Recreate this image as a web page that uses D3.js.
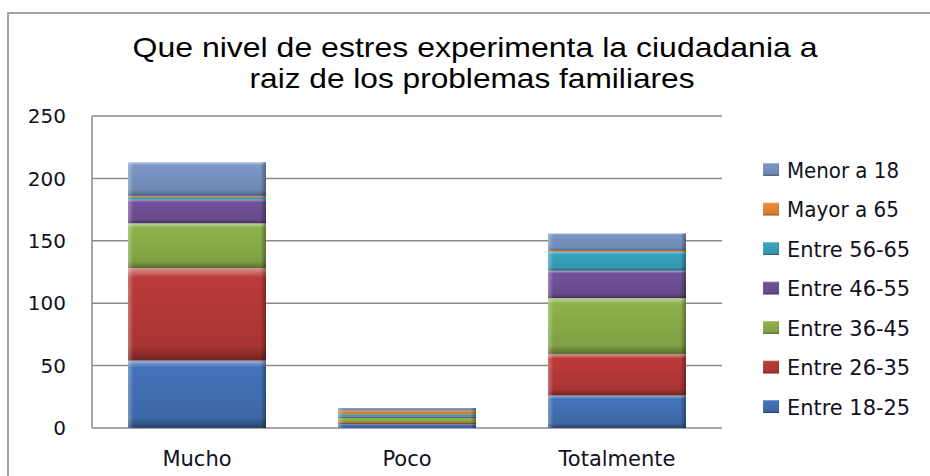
<!DOCTYPE html>
<html lang="es">
<head>
  <meta charset="UTF-8">
  <title>Nivel de estres</title>
  <style>
    html, body { margin: 0; padding: 0; background: #fff; }
    svg { display: block; }
    .tick-label, .cat-label, .legend-label {
      font-family: "DejaVu Sans", Verdana, sans-serif;
      fill: #111122;
    }
    .title {
      font-family: "Liberation Sans Narrow", "Arial Narrow", "Liberation Sans", Arial, sans-serif;
      fill: #000;
    }
  </style>
  <script src="https://cdn.jsdelivr.net/npm/d3@7"></script>
</head>
<body>
<svg id="chart" width="930" height="476"></svg>
<script>
  // datos
  const categories = ["Mucho", "Poco", "Totalmente"];
  const seriesNames = ["Entre 18-25", "Entre 26-35", "Entre 36-45", "Entre 46-55",
    "Entre 56-65", "Mayor a 65", "Menor a 18"];
  const entre18_25 = [54, 3, 26];
  const entre26_35 = [74, 1, 33];
  const entre36_45 = [36, 4, 45];
  const entre46_55 = [19, 1, 22];
  const entre56_65 = [2, 2, 15];
  const mayor65 = [1, 3, 1];
  const menor18 = [27, 2, 14];
  const yTicks = [0, 50, 100, 150, 200, 250];
  const colors = ["#4473b9", "#bb3b39", "#8db24b", "#71529a", "#3aa5c0", "#ea8b36", "#7b96c6"];

  const seriesValues = [entre18_25, entre26_35, entre36_45, entre46_55, entre56_65, mayor65, menor18];
  const table = categories.map((c, i) => {
    const row = {cat: c};
    seriesNames.forEach((s, j) => row[s] = seriesValues[j][i]);
    return row;
  });

  const svg = d3.select('#chart');
  const defs = svg.append('defs');

  // degradados para imitar el bisel
  colors.forEach((c, i) => {
    const g = defs.append('linearGradient')
      .attr('id', 'grad' + i)
      .attr('x1', 0).attr('y1', 0).attr('x2', 0).attr('y2', 1);
    const light = d3.interpolateRgb(c, '#fff')(0.45);
    const dark = d3.interpolateRgb(c, '#000')(0.4);
    g.append('stop').attr('offset', '0%').attr('stop-color', light);
    g.append('stop').attr('offset', '10%').attr('stop-color', c);
    g.append('stop').attr('offset', '84%').attr('stop-color', d3.interpolateRgb(c, '#000')(0.1));
    g.append('stop').attr('offset', '100%').attr('stop-color', dark);
  });
  const side = defs.append('linearGradient').attr('id', 'side')
    .attr('x1', 0).attr('y1', 0).attr('x2', 1).attr('y2', 0);
  side.append('stop').attr('offset', '0%').attr('stop-color', '#fff').attr('stop-opacity', 0.3);
  side.append('stop').attr('offset', '4%').attr('stop-color', '#fff').attr('stop-opacity', 0);
  side.append('stop').attr('offset', '96%').attr('stop-color', '#000').attr('stop-opacity', 0);
  side.append('stop').attr('offset', '100%').attr('stop-color', '#000').attr('stop-opacity', 0.35);

  // marco del grafico
  svg.append('path')
    .attr('d', 'M8,480 V13 H935')
    .attr('fill', 'none')
    .attr('stroke', '#a3a3a3')
    .attr('stroke-width', 2);

  // titulo
  svg.append('text')
    .attr('class', 'title')
    .attr('x', 475).attr('y', 57)
    .attr('text-anchor', 'middle')
    .attr('font-size', 28)
    .attr('textLength', 685)
    .attr('lengthAdjust', 'spacingAndGlyphs')
    .text('Que nivel de estres experimenta la ciudadania a');
  svg.append('text')
    .attr('class', 'title')
    .attr('x', 472).attr('y', 88)
    .attr('text-anchor', 'middle')
    .attr('font-size', 28)
    .attr('textLength', 445)
    .attr('lengthAdjust', 'spacingAndGlyphs')
    .text('raiz de los problemas familiares');

  const x = d3.scaleBand()
    .domain(categories)
    .range([92, 722])
    .paddingInner(0.343)
    .paddingOuter(0.1715);

  const y = d3.scaleLinear()
    .domain([0, 250])
    .range([428, 116]);

  // lineas de division
  svg.append('g')
    .selectAll('line')
    .data(yTicks)
    .join('line')
    .attr('x1', 92).attr('x2', 722)
    .attr('y1', d => y(d)).attr('y2', d => y(d))
    .attr('stroke', '#8a8a8a')
    .attr('stroke-width', 1.5);

  svg.append('line')
    .attr('x1', 92).attr('x2', 92)
    .attr('y1', y(250)).attr('y2', y(0))
    .attr('stroke', '#8a8a8a')
    .attr('stroke-width', 1.5);

  svg.append('g')
    .selectAll('text')
    .data(yTicks)
    .join('text')
    .attr('class', 'tick-label')
    .attr('x', 66)
    .attr('y', d => y(d))
    .attr('dy', '0.36em')
    .attr('text-anchor', 'end')
    .attr('font-size', 20)
    .text(d => d);

  // barras apiladas
  const stacked = d3.stack().keys(seriesNames)(table);
  const layer = svg.append('g')
    .selectAll('g')
    .data(stacked)
    .join('g');

  layer.selectAll('rect.fill')
    .data((d, i) => d.map(p => ({p, i})))
    .join('rect')
    .attr('class', 'fill')
    .attr('x', d => x(d.p.data.cat))
    .attr('width', x.bandwidth())
    .attr('y', d => y(d.p[1]))
    .attr('height', d => y(d.p[0]) - y(d.p[1]))
    .attr('fill', d => `url(#grad${d.i})`);

  layer.selectAll('rect.side')
    .data(d => d)
    .join('rect')
    .attr('class', 'side')
    .attr('x', d => x(d.data.cat))
    .attr('width', x.bandwidth())
    .attr('y', d => y(d[1]))
    .attr('height', d => y(d[0]) - y(d[1]))
    .attr('fill', 'url(#side)');

  // etiquetas de categoria
  svg.append('g')
    .selectAll('text')
    .data(categories)
    .join('text')
    .attr('class', 'cat-label')
    .attr('x', d => x(d) + x.bandwidth() / 2)
    .attr('y', 466)
    .attr('text-anchor', 'middle')
    .attr('font-size', 21)
    .text(d => d);

  // leyenda
  const legendOrder = seriesNames.map((s, i) => ({s, i})).reverse();
  const legend = svg.append('g')
    .selectAll('g')
    .data(legendOrder)
    .join('g')
    .attr('transform', (d, k) => `translate(763, ${170 + k * 39.5})`);

  legend.append('rect')
    .attr('x', 0).attr('y', -7)
    .attr('width', 16).attr('height', 13)
    .attr('fill', d => `url(#grad${d.i})`);
  legend.append('rect')
    .attr('x', 0).attr('y', -7)
    .attr('width', 16).attr('height', 13)
    .attr('fill', 'url(#side)');

  legend.append('text')
    .attr('class', 'legend-label')
    .attr('x', 24)
    .attr('y', 0)
    .attr('dy', '0.36em')
    .attr('font-size', 21)
    .attr('textLength', d => d.s.length * 11.2)
    .attr('lengthAdjust', 'spacingAndGlyphs')
    .text(d => d.s);
</script>
</body>
</html>
